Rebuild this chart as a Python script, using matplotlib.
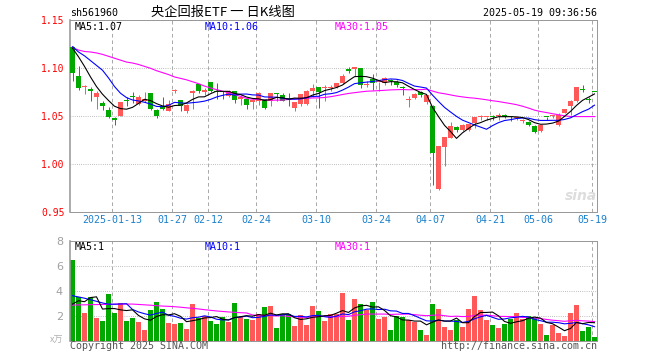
import math
import matplotlib
matplotlib.use("Agg")
import matplotlib.pyplot as plt

# ---------------- data ----------------
opens = [1.1219, 1.0920, 1.0806, 1.0785, 1.0701, 1.0639, 1.0569, 1.0479, 1.0500, 1.0660,
         1.0703, 1.0632, 1.0656, 1.0743, 1.0566, 1.0604, 1.0559, 1.0764, 1.0670, 1.0559,
         1.0743, 1.0837, 1.0750, 1.0858, 1.0760, 1.0757, 1.0708, 1.0760, 1.0684, 1.0680,
         1.0646, 1.0663, 1.0680, 1.0656, 1.0740, 1.0722, 1.0691, 1.0587, 1.0628, 1.0628,
         1.0760, 1.0806, 1.0792, 1.0799, 1.0802, 1.0847, 1.0981, 1.0997, 1.1003, 1.0826,
         1.0892, 1.0855, 1.0847, 1.0875, 1.0858, 1.0799, 1.0670, 1.0691, 1.0753, 1.0646,
         1.0604, 0.9743, 1.0181, 1.0274, 1.0385, 1.0361, 1.0361, 1.0431, 1.0490, 1.0490,
         1.0496, 1.0507, 1.0517, 1.0496, 1.0479, 1.0451, 1.0441, 1.0396, 1.0351, 1.0496,
         1.0503, 1.0406, 1.0535, 1.0604, 1.0656, 1.0774, 1.0677, 1.0755]
highs = [1.1230, 1.1024, 1.0830, 1.0802, 1.0767, 1.0663, 1.0594, 1.0497, 1.0649, 1.0698,
         1.0753, 1.0726, 1.0753, 1.0743, 1.0573, 1.0698, 1.0670, 1.0788, 1.0670, 1.0628,
         1.0778, 1.0837, 1.0795, 1.0858, 1.0844, 1.0760, 1.0778, 1.0760, 1.0719, 1.0691,
         1.0684, 1.0753, 1.0680, 1.0743, 1.0743, 1.0743, 1.0743, 1.0649, 1.0733, 1.0778,
         1.0837, 1.0806, 1.0830, 1.0823, 1.0847, 1.0941, 1.1010, 1.1010, 1.1003, 1.0865,
         1.0941, 1.0858, 1.0906, 1.0892, 1.0882, 1.0812, 1.0708, 1.0743, 1.0767, 1.0719,
         1.0622, 1.0194, 1.0281, 1.0441, 1.0403, 1.0420, 1.0420, 1.0490, 1.0517, 1.0493,
         1.0517, 1.0538, 1.0524, 1.0500, 1.0493, 1.0476, 1.0448, 1.0406, 1.0406, 1.0496,
         1.0510, 1.0535, 1.0580, 1.0674, 1.0806, 1.0823, 1.0698, 1.0757]
lows = [1.0865, 1.0778, 1.0733, 1.0663, 1.0580, 1.0569, 1.0483, 1.0406, 1.0500, 1.0611,
        1.0635, 1.0622, 1.0649, 1.0569, 1.0483, 1.0566, 1.0552, 1.0740, 1.0552, 1.0538,
        1.0580, 1.0743, 1.0726, 1.0753, 1.0684, 1.0680, 1.0698, 1.0639, 1.0622, 1.0580,
        1.0580, 1.0622, 1.0580, 1.0604, 1.0656, 1.0656, 1.0604, 1.0559, 1.0611, 1.0622,
        1.0698, 1.0587, 1.0656, 1.0767, 1.0795, 1.0840, 1.0951, 1.0917, 1.0795, 1.0802,
        1.0778, 1.0767, 1.0830, 1.0830, 1.0802, 1.0726, 1.0597, 1.0680, 1.0698, 1.0632,
        0.9781, 0.9736, 0.9986, 1.0274, 1.0337, 1.0351, 1.0344, 1.0378, 1.0465, 1.0465,
        1.0465, 1.0465, 1.0483, 1.0448, 1.0465, 1.0431, 1.0396, 1.0326, 1.0337, 1.0465,
        1.0483, 1.0396, 1.0535, 1.0510, 1.0649, 1.0750, 1.0639, 1.0750]
closes = [1.0955, 1.0795, 1.0819, 1.0767, 1.0743, 1.0608, 1.0493, 1.0465, 1.0649, 1.0656,
          1.0700, 1.0701, 1.0681, 1.0580, 1.0500, 1.0576, 1.0632, 1.0770, 1.0604, 1.0615,
          1.0760, 1.0760, 1.0778, 1.0760, 1.0750, 1.0753, 1.0760, 1.0674, 1.0698, 1.0622,
          1.0674, 1.0743, 1.0587, 1.0743, 1.0736, 1.0656, 1.0667, 1.0649, 1.0733, 1.0760,
          1.0795, 1.0753, 1.0799, 1.0806, 1.0847, 1.0924, 1.0977, 1.1010, 1.0823, 1.0830,
          1.0847, 1.0858, 1.0899, 1.0872, 1.0823, 1.0795, 1.0674, 1.0733, 1.0719, 1.0719,
          1.0118, 1.0194, 1.0281, 1.0396, 1.0361, 1.0406, 1.0420, 1.0490, 1.0493, 1.0493,
          1.0493, 1.0510, 1.0493, 1.0493, 1.0483, 1.0455, 1.0406, 1.0333, 1.0406, 1.0493,
          1.0507, 1.0510, 1.0580, 1.0663, 1.0806, 1.0771, 1.0674, 1.0753]
ma5 = [1.1210, 1.1120, 1.1020, 1.0910, 1.0810, 1.0730, 1.0665, 1.0605, 1.0580, 1.0574,
       1.0593, 1.0634, 1.0677, 1.0664, 1.0632, 1.0608, 1.0594, 1.0612, 1.0616, 1.0639,
       1.0676, 1.0702, 1.0703, 1.0735, 1.0762, 1.0760, 1.0760, 1.0739, 1.0727, 1.0701,
       1.0686, 1.0682, 1.0665, 1.0674, 1.0697, 1.0693, 1.0678, 1.0690, 1.0688, 1.0693,
       1.0721, 1.0738, 1.0768, 1.0783, 1.0800, 1.0826, 1.0871, 1.0913, 1.0916, 1.0913,
       1.0897, 1.0874, 1.0851, 1.0861, 1.0860, 1.0849, 1.0813, 1.0779, 1.0749, 1.0728,
       1.0593, 1.0497, 1.0406, 1.0342, 1.0270, 1.0328, 1.0373, 1.0415, 1.0434, 1.0460,
       1.0478, 1.0496, 1.0496, 1.0496, 1.0494, 1.0487, 1.0466, 1.0434, 1.0417, 1.0419,
       1.0429, 1.0450, 1.0499, 1.0551, 1.0613, 1.0666, 1.0699, 1.0733]
ma10 = [1.1225, 1.1170, 1.1130, 1.1080, 1.1030, 1.0980, 1.0900, 1.0810, 1.0740, 1.0695,
        1.0670, 1.0660, 1.0646, 1.0628, 1.0603, 1.0600, 1.0614, 1.0645, 1.0640, 1.0636,
        1.0642, 1.0648, 1.0658, 1.0676, 1.0701, 1.0718, 1.0731, 1.0721, 1.0731, 1.0732,
        1.0723, 1.0721, 1.0702, 1.0700, 1.0699, 1.0689, 1.0680, 1.0678, 1.0681, 1.0695,
        1.0707, 1.0708, 1.0729, 1.0735, 1.0747, 1.0773, 1.0804, 1.0840, 1.0849, 1.0856,
        1.0862, 1.0872, 1.0882, 1.0889, 1.0886, 1.0873, 1.0843, 1.0815, 1.0805, 1.0794,
        1.0721, 1.0655, 1.0593, 1.0545, 1.0499, 1.0460, 1.0435, 1.0410, 1.0388, 1.0365,
        1.0403, 1.0434, 1.0456, 1.0465, 1.0477, 1.0482, 1.0481, 1.0465, 1.0457, 1.0457,
        1.0458, 1.0458, 1.0467, 1.0484, 1.0516, 1.0548, 1.0574, 1.0616]
ma30 = [1.1215, 1.1190, 1.1175, 1.1170, 1.1160, 1.1145, 1.1125, 1.1105, 1.1085, 1.1065,
        1.1055, 1.1040, 1.1020, 1.1000, 1.0975, 1.0955, 1.0935, 1.0910, 1.0895, 1.0880,
        1.0860, 1.0840, 1.0815, 1.0795, 1.0778, 1.0762, 1.0745, 1.0727, 1.0708, 1.0687,
        1.0678, 1.0676, 1.0669, 1.0668, 1.0668, 1.0669, 1.0675, 1.0681, 1.0684, 1.0687,
        1.0691, 1.0692, 1.0696, 1.0704, 1.0715, 1.0727, 1.0738, 1.0746, 1.0754, 1.0761,
        1.0764, 1.0767, 1.0771, 1.0775, 1.0777, 1.0779, 1.0776, 1.0778, 1.0778, 1.0782,
        1.0763, 1.0745, 1.0735, 1.0723, 1.0711, 1.0702, 1.0694, 1.0689, 1.0681, 1.0672,
        1.0662, 1.0654, 1.0643, 1.0633, 1.0621, 1.0605, 1.0586, 1.0564, 1.0550, 1.0539,
        1.0527, 1.0516, 1.0505, 1.0498, 1.0497, 1.0497, 1.0497, 1.0497]
volume = [6.45, 3.52, 2.21, 3.52, 1.84, 1.57, 3.73, 2.21, 2.99, 1.57,
          1.84, 1.49, 0.85, 2.45, 3.09, 2.53, 1.39, 1.33, 1.41, 0.93,
          2.93, 1.84, 1.97, 1.57, 1.33, 1.87, 1.49, 3.01, 1.92, 1.73,
          1.65, 2.16, 2.69, 2.77, 1.01, 2.13, 2.13, 1.17, 2.05, 1.25,
          2.77, 2.37, 1.57, 2.13, 2.16, 3.81, 1.65, 3.33, 2.93, 2.45,
          3.09, 1.73, 1.89, 0.85, 1.97, 1.87, 1.65, 1.52, 0.85, 0.45,
          2.93, 2.53, 1.09, 0.85, 1.65, 1.09, 2.53, 3.57, 2.45, 1.65,
          1.25, 1.01, 1.33, 1.73, 2.21, 1.73, 1.97, 1.81, 1.33, 0.45,
          1.25, 0.61, 0.37, 2.21, 2.85, 0.77, 1.09, 0.29]
vma5 = [2.93, 3.20, 3.12, 3.45, 3.51, 2.53, 2.57, 2.57, 2.47, 2.41,
        2.47, 2.02, 1.75, 1.64, 1.94, 2.08, 2.06, 2.16, 1.95, 1.52,
        1.60, 1.69, 1.82, 1.85, 1.93, 1.72, 1.65, 1.85, 1.92, 2.00,
        1.96, 2.09, 2.03, 2.20, 2.06, 2.15, 2.15, 1.84, 1.70, 1.75,
        1.87, 1.92, 2.00, 2.02, 2.20, 2.41, 2.26, 2.62, 2.78, 2.83,
        2.69, 2.71, 2.42, 2.00, 1.91, 1.66, 1.65, 1.57, 1.57, 1.27,
        1.48, 1.66, 1.57, 1.57, 1.81, 1.44, 1.44, 1.94, 2.26, 2.26,
        2.29, 1.99, 1.54, 1.39, 1.51, 1.60, 1.79, 1.89, 1.81, 1.46,
        1.36, 1.09, 0.80, 0.98, 1.46, 1.36, 1.46, 1.44]
vma10 = [3.60, 3.50, 3.40, 3.28, 3.15, 3.02, 2.92, 2.92, 2.94, 2.96,
         2.50, 2.30, 2.16, 2.05, 2.18, 2.28, 2.04, 1.95, 1.80, 1.73,
         1.84, 1.88, 1.99, 1.90, 1.72, 1.66, 1.67, 1.84, 1.89, 1.97,
         1.84, 1.87, 1.94, 2.06, 2.03, 2.06, 2.12, 1.94, 1.95, 1.90,
         2.01, 2.03, 1.92, 1.86, 1.97, 2.14, 2.09, 2.31, 2.40, 2.52,
         2.55, 2.49, 2.52, 2.39, 2.37, 2.18, 2.18, 2.00, 1.79, 1.59,
         1.57, 1.65, 1.57, 1.57, 1.54, 1.46, 1.55, 1.75, 1.91, 2.03,
         1.87, 1.71, 1.74, 1.83, 1.88, 1.95, 1.89, 1.71, 1.60, 1.48,
         1.48, 1.44, 1.35, 1.39, 1.46, 1.36, 1.27, 1.12]
vma30 = [2.85, 2.86, 2.87, 2.88, 2.89, 2.90, 2.91, 2.92, 2.92, 2.93,
         2.93, 2.90, 2.87, 2.84, 2.80, 2.77, 2.75, 2.72, 2.68, 2.63,
         2.59, 2.54, 2.48, 2.43, 2.38, 2.34, 2.30, 2.27, 2.24, 2.22,
         2.06, 2.01, 2.03, 2.01, 1.98, 2.00, 1.94, 1.91, 1.88, 1.87,
         1.90, 1.93, 1.95, 1.94, 1.91, 1.95, 1.96, 2.03, 2.08, 2.13,
         2.13, 2.13, 2.13, 2.10, 2.12, 2.12, 2.13, 2.08, 2.04, 2.00,
         2.04, 2.06, 2.00, 1.94, 1.96, 1.93, 1.94, 2.02, 2.03, 2.05,
         2.00, 1.95, 1.94, 1.93, 1.93, 1.86, 1.87, 1.82, 1.77, 1.70,
         1.64, 1.60, 1.55, 1.60, 1.63, 1.59, 1.57, 1.53]
date_ticks = [7, 17, 23, 31, 41, 51, 60, 70, 78, 87]
date_labels = ["2025-01-13", "01-27", "02-12", "02-24", "03-10",
               "03-24", "04-07", "04-21", "05-06", "05-19"]
price_ticks = [0.95, 1.00, 1.05, 1.10, 1.15]
vol_ticks = [2, 4, 6, 8]

# ---------------- style ----------------
RED = "#ff5858"
GREEN = "#00a800"
GRID = "#aaaaaa"
FRAME = "#999999"
MONO = "DejaVu Sans Mono"
CJK = ["Noto Sans CJK SC", "DejaVu Sans"]
W, H = 660, 360
PX = 72 / 100  # one pixel in points

fig = plt.figure(figsize=(6.6, 3.6), dpi=100)


def px_axes(left, top, right, bottom):
    return fig.add_axes([left / W, 1 - bottom / H, (right - left) / W, (bottom - top) / H])


ax = px_axes(70, 20.3, 597.3, 212.3)
axv = px_axes(70, 240.7, 597.3, 340.7)

n = len(closes)
slot = 6.0
bw = 5 / slot
xs = list(range(n))
xc = [i + 2.5 / slot for i in xs]
colors = [RED if closes[i] >= opens[i] else GREEN for i in xs]
body_bottom = [min(opens[i], closes[i]) for i in xs]
body_h = [max(abs(closes[i] - opens[i]), 0.0011) for i in xs]

for a in (ax, axv):
    a.set_xlim(0, 527.3 / slot)
    for s in a.spines.values():
        s.set_color(FRAME)
        s.set_linewidth(1 * PX)
    a.spines["left"].set_linewidth(1.6 * PX)
    a.tick_params(length=0)
    a.set_xticks([])
    for t in date_ticks:
        a.axvline(t, color=GRID, lw=1 * PX, dashes=(5 * PX, 4 * PX), zorder=0)

# price panel
ax.set_ylim(0.95, 1.15)
ax.set_yticks(price_ticks)
ax.set_yticklabels([f"{v:.2f}" for v in price_ticks], color="red",
                   fontfamily=MONO, fontsize=7)
ax.tick_params(axis="y", pad=4)
for v in [1.00, 1.05, 1.10]:
    ax.axhline(v, color=GRID, lw=1 * PX, dashes=(1 * PX, 2 * PX), zorder=0)

ax.vlines(xc, lows, highs, colors=colors, lw=1 * PX, zorder=2)
ax.bar(xs, body_h, width=bw, bottom=body_bottom, align="edge",
       color=colors, lw=0, zorder=3)
ax.plot(xc, ma30, color="#ff00ff", lw=1.1 * PX, zorder=4)
ax.plot(xc, ma10, color="#0000ff", lw=1.1 * PX, zorder=4)
ax.plot(xc, ma5, color="black", lw=1.1 * PX, zorder=4)

for x, lab, col in [(75, f"MA5:{ma5[-1]:.2f}", "black"),
                    (204.7, f"MA10:{ma10[-1]:.2f}", "#0000ff"),
                    (334.7, f"MA30:{ma30[-1]:.2f}", "#ff00ff")]:
    fig.text(x / W, 1 - 26.5 / H, lab, color=col, fontfamily=MONO,
             fontsize=7.2, va="center", ha="left")

for t, lab in zip(date_ticks, date_labels):
    ax.text(t, -0.012, lab, transform=ax.get_xaxis_transform(), ha="center",
            va="top", color="#1a80cc", fontfamily=MONO, fontsize=7.2)

# volume panel
axv.set_ylim(0, 8)
axv.set_yticks(vol_ticks)
axv.set_yticklabels([str(v) for v in vol_ticks], color="#a0a0a0",
                    fontfamily="DejaVu Sans", fontsize=8)
axv.tick_params(axis="y", pad=5)
for v in [2, 4, 6]:
    axv.axhline(v, color=GRID, lw=1 * PX, dashes=(1 * PX, 2 * PX), zorder=0)
axv.bar(xs, volume, width=bw, align="edge", color=colors, lw=0, zorder=2)
axv.plot(xc, vma30, color="#ff00ff", lw=1.1 * PX, zorder=4)
axv.plot(xc, vma10, color="#0000ff", lw=1.1 * PX, zorder=4)
axv.plot(xc, vma5, color="black", lw=1.1 * PX, zorder=4)

for x, lab, col in [(75, f"MA5:{math.floor(vma5[-1])}", "black"),
                    (204.7, f"MA10:{math.floor(vma10[-1])}", "#0000ff"),
                    (334.7, f"MA30:{math.floor(vma30[-1])}", "#ff00ff")]:
    fig.text(x / W, 1 - 246.5 / H, lab, color=col, fontfamily=MONO,
             fontsize=7.2, va="center", ha="left")

fig.text(63 / W, 1 - 340.5 / H, "x万", color="#b0b0b0", family=CJK,
         fontsize=6.5, ha="right", va="center")

# header
fig.text(70 / W, 1 - 13 / H, "sh561960", fontfamily=MONO, fontsize=7.2,
         ha="left", va="center", color="black")
fig.text(223 / W, 1 - 12.5 / H, "央企回报ETF 一 日K线图", family=CJK,
         fontsize=9.5, ha="center", va="center", color="black")
fig.text(597 / W, 1 - 13 / H, "2025-05-19 09:36:56", fontfamily=MONO,
         fontsize=7.2, ha="right", va="center", color="black")

# footer
fig.text(70 / W, 1 - 346 / H, "Copyright 2025 SINA.COM", fontfamily=MONO,
         fontsize=7.2, ha="left", va="center", color="#555555")
fig.text(597 / W, 1 - 346 / H, "http://finance.sina.com.cn", fontfamily=MONO,
         fontsize=7.2, ha="right", va="center", color="#555555")

# watermark
fig.text(581 / W, 1 - 196 / H, "sina", fontfamily="DejaVu Sans", fontsize=10,
         fontweight="bold", style="italic", ha="center", va="center",
         color="#dddddd", zorder=1)

fig.savefig("out.png", dpi=100)
